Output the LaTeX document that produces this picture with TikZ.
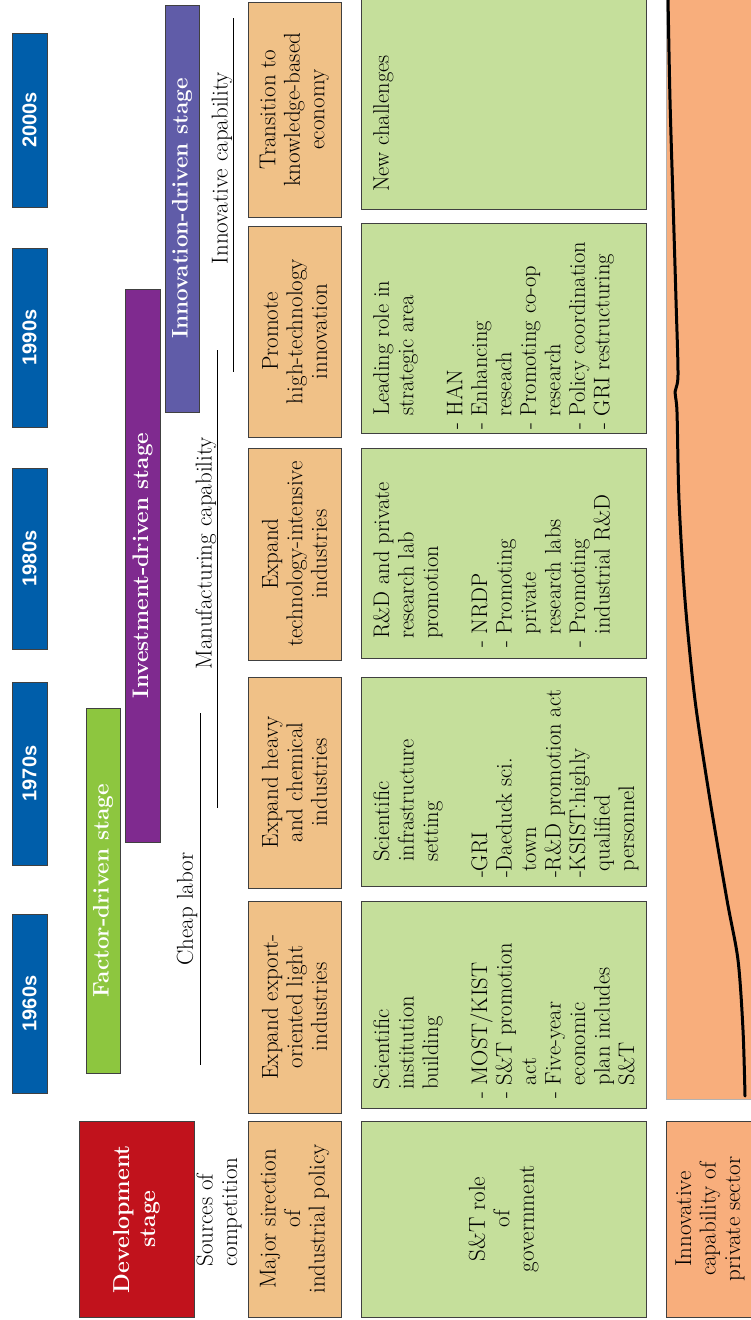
\documentclass[tikz,border=0pt]{standalone}
\usepackage{fontspec}
\newfontfamily\decadefont{Liberation Sans}
\usepackage{tikz}

\definecolor{decblue}{RGB}{0,94,170}
\definecolor{factorgreen}{RGB}{141,198,63}
\definecolor{investpurple}{RGB}{127,42,143}
\definecolor{innovblue}{RGB}{96,92,168}
\definecolor{devred}{RGB}{193,18,28}
\definecolor{policyorange}{RGB}{240,193,135}
\definecolor{rolegreen}{RGB}{197,223,155}
\definecolor{privateorange}{RGB}{248,174,124}
\definecolor{edgegray}{RGB}{64,64,64}

\begin{document}
\begin{tikzpicture}[x=1pt,y=-1pt,
    cell/.style={draw=edgegray, line width=1pt, rotate=90, inner sep=0pt, align=center,
        text=black, font=\fontsize{23}{24.5}\selectfont},
    decade/.style={cell, fill=decblue, text=white, minimum height=35,
        font=\decadefont\bfseries\fontsize{20}{24}\selectfont},
    stagebar/.style={cell, fill=#1, text=white, font=\bfseries\fontsize{22.5}{25}\selectfont},
    policy/.style={cell, fill=policyorange, minimum height=93},
    role/.style={cell, fill=rolegreen, minimum height=285},
    roletext/.style={rotate=90, anchor=north west, inner sep=0pt, align=left,
        text=black, font=\fontsize{22.5}{24.5}\selectfont},
    source/.style={rotate=90, inner sep=0pt, align=left, text=black,
        font=\fontsize{23}{24.5}\selectfont}
]
    \useasboundingbox (0,0) rectangle (750,1320);

    % Decades
    \node[decade, minimum width=179] (d60) at (29.5,1003.5) {1960s};
    \node[decade, minimum width=183] (d70) at (29.5,773.5) {1970s};
    \node[decade, minimum width=181] (d80) at (29.5,558.5) {1980s};
    \node[decade, minimum width=179] (d90) at (29.5,337.5) {1990s};
    \node[decade, minimum width=174] (d00) at (29.5,120) {2000s};

    % Development stages
    \node[stagebar=factorgreen, minimum width=365, minimum height=34] (factor) at (103,890.5) {Factor-driven stage};
    \node[stagebar=investpurple, minimum width=553, minimum height=35] (invest) at (142.5,565.5) {Investment-driven stage};
    \node[stagebar=innovblue, minimum width=407, minimum height=34] (innov) at (182,208.5) {Innovation-driven stage};
    \node[stagebar=devred, minimum width=196, minimum height=115, font=\bfseries\fontsize{23}{26}\selectfont]
        (devstage) at (136.5,1219) {Development\\stage};

    % Sources of competition
    \node[source] (sources) at (219,1212) {Sources of\\competition};
    \node[source] (cheap) at (187,909) {Cheap labor};
    \draw[line width=0.8pt] (200,713) -- (200,1065);
    \node[source] (manuf) at (206,553) {Manufacturing capability};
    \draw[line width=0.8pt] (217,350) -- (217,808);
    \node[source] (innovcap) at (222,168) {Innovative capability};
    \draw[line width=0.8pt] (233,18) -- (233,372);

    % Major direction of industrial policy
    \node[policy, minimum width=196] (pol0) at (294.5,1219) {Major sirection\\of\\industrial policy};
    \node[policy, minimum width=212] (pol1) at (294.5,1007) {Expand export-\\oriented light\\industries};
    \node[policy, minimum width=211] (pol2) at (294.5,782.5) {Expand heavy\\and chemical\\industries};
    \node[policy, minimum width=212] (pol3) at (294.5,554) {Expand\\technology-intensive\\industries};
    \node[policy, minimum width=211] (pol4) at (294.5,331.5) {Promote\\high-technology\\innovation};
    \node[policy, minimum width=215] (pol5) at (294.5,109.5) {Transition to\\knowledge-based\\economy};

    % S&T role of government
    \node[role, minimum width=196] (gov0) at (503.5,1219) {S\&T role\\of\\government};
    \node[role, minimum width=207] (gov1) at (503.5,1004.5) {};
    \node[role, minimum width=209] (gov2) at (503.5,781.5) {};
    \node[role, minimum width=210] (gov3) at (503.5,553) {};
    \node[role, minimum width=210] (gov4) at (503.5,328) {};
    \node[role, minimum width=213] (gov5) at (503.5,102.5) {};
    \node[roletext] (t1) at (373,1099) {\hspace*{9pt}Scientific\\\hspace*{9pt}institution\\\hspace*{9pt}building\\[24.5pt]
        - MOST/KIST\\- S\&T promotion\\\phantom{- }act\\- Five-year\\\phantom{- }economic\\
        \phantom{- }plan includes\\\phantom{- }S\&T};
    \node[roletext] (t2) at (373,878) {\hspace*{16pt}Scientific\\\hspace*{16pt}infrastructure\\\hspace*{16pt}setting\\[24.5pt]
        -GRI\\-Daeduck sci.\\\phantom{-}town\\-R\&D promotion act\\-KSIST:highly\\
        \phantom{-}qualified\\\phantom{-}personnel};
    \node[roletext] (t3) at (373,648) {\hspace*{9pt}R\&D and private\\\hspace*{9pt}research lab\\\hspace*{9pt}promotion\\[24.5pt]
        - NRDP\\- Promoting\\\phantom{- }private\\\phantom{- }research labs\\
        - Promoting\\\phantom{- }industrial R\&D};
    \node[roletext] (t4) at (373,430) {\hspace*{14pt}Leading role in\\\hspace*{14pt}strategic area\\[24.5pt]
        - HAN\\- Enhancing\\\phantom{- }reseach\\- Promoting co-op\\\phantom{- }research\\
        - Policy coordination\\- GRI restructuring};
    \node[roletext] (t5) at (373,192) {New challenges};

    % Innovative capability of private sector
    \draw[draw=gray!60, fill=privateorange] (666,-2) rectangle (754,1099);
    \draw[line width=3pt, line cap=round, line join=round] plot[smooth] coordinates {
        (668,-2) (670,100) (673,200) (676,300) (678,375) (675,392) (677,412) (679,500)
        (685,600) (695,700) (710,800) (727,900) (738,960) (743,1030) (745,1096)};
    \node[cell, fill=privateorange, minimum width=196, minimum height=88] (priv) at (710,1219)
        {Innovative\\capability of\\private sector};
\end{tikzpicture}
\end{document}
